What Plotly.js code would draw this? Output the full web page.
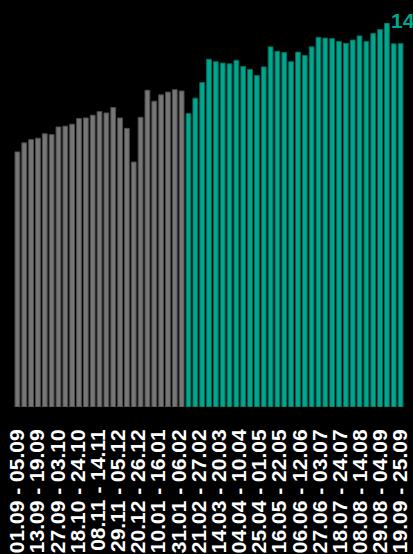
<!DOCTYPE html>
<html>
<head>
<meta charset="utf-8">
<script src="https://cdn.plot.ly/plotly-3.0.1.min.js"></script>
<style>
  html, body { margin: 0; padding: 0; background: #000; }
  #chart { width: 413px; height: 554px; }
</style>
</head>
<body>
<div id="chart"></div>
<script>
// Weekly values
const previousValues = [9.30, 9.63, 9.75, 9.80, 9.96, 9.93, 10.21, 10.24, 10.31, 10.52,
  10.54, 10.64, 10.77, 10.72, 10.92, 10.54, 10.16, 8.93, 10.56, 11.55,
  11.15, 11.38, 11.48, 11.57, 11.52];
const currentValues = [10.70, 11.26, 11.83, 12.68, 12.59, 12.54, 12.51, 12.64, 12.42, 12.31,
  12.09, 12.40, 13.13, 12.97, 12.92, 12.59, 12.94, 12.82, 13.13, 13.48,
  13.45, 13.43, 13.33, 13.26, 13.38, 13.53, 13.33, 13.62, 13.76, 14.00,
  13.24, 13.25];
const tickLabels = ["01.09 - 05.09", "13.09 - 19.09", "27.09 - 03.10", "18.10 - 24.10",
  "08.11 - 14.11", "29.11 - 05.12", "20.12 - 26.12", "10.01 - 16.01", "31.01 - 06.02",
  "21.02 - 27.02", "14.03 - 20.03", "04.04 - 10.04", "25.04 - 01.05", "16.05 - 22.05",
  "06.06 - 12.06", "27.06 - 03.07", "18.07 - 24.07", "08.08 - 14.08", "29.08 - 04.09",
  "19.09 - 25.09"];
const peakLabel = "14";

const nPrev = previousValues.length;
const nAll = nPrev + currentValues.length;
const xPrev = previousValues.map((_, i) => i);
const xCur = currentValues.map((_, i) => i + nPrev);
const tickVals = tickLabels.map((_, i) => i * (nAll - 1) / (tickLabels.length - 1));

const allValues = previousValues.concat(currentValues);
const peakIdx = allValues.indexOf(Math.max(...allValues));

const traces = [
  {
    type: 'bar', x: xPrev, y: previousValues,
    marker: { color: '#767676', line: { color: '#4d4d4d', width: 1 } },
    hoverinfo: 'skip'
  },
  {
    type: 'bar', x: xCur, y: currentValues,
    marker: { color: '#00a78e', line: { color: '#00695a', width: 1 } },
    hoverinfo: 'skip'
  }
];

const layout = {
  width: 413, height: 554,
  paper_bgcolor: '#000', plot_bgcolor: '#000',
  margin: { l: 14, r: 9, t: 23, b: 147 },
  showlegend: false,
  bargap: 0.3,
  xaxis: {
    range: [-0.5, nAll - 0.5],
    tickmode: 'array', tickvals: tickVals, ticktext: tickLabels,
    tickangle: -90,
    ticks: 'outside', ticklen: 13, tickcolor: 'rgba(0,0,0,0)',
    tickfont: { family: 'Liberation Sans, Arial, sans-serif', size: 21, color: '#ffffff', weight: 'bold' },
    showgrid: false, zeroline: false, showline: false
  },
  yaxis: {
    range: [0, 14],
    visible: false, showgrid: false, zeroline: false
  },
  annotations: [{
    x: peakIdx, y: allValues[peakIdx], xref: 'x', yref: 'y',
    text: peakLabel, showarrow: false,
    xanchor: 'left', yanchor: 'middle', xshift: 2, yshift: 3,
    font: { family: 'Liberation Sans, Arial, sans-serif', size: 21, color: '#00a78e', weight: 'bold' }
  }]
};

Plotly.newPlot('chart', traces, layout, { displayModeBar: false, staticPlot: true });
</script>
</body>
</html>
